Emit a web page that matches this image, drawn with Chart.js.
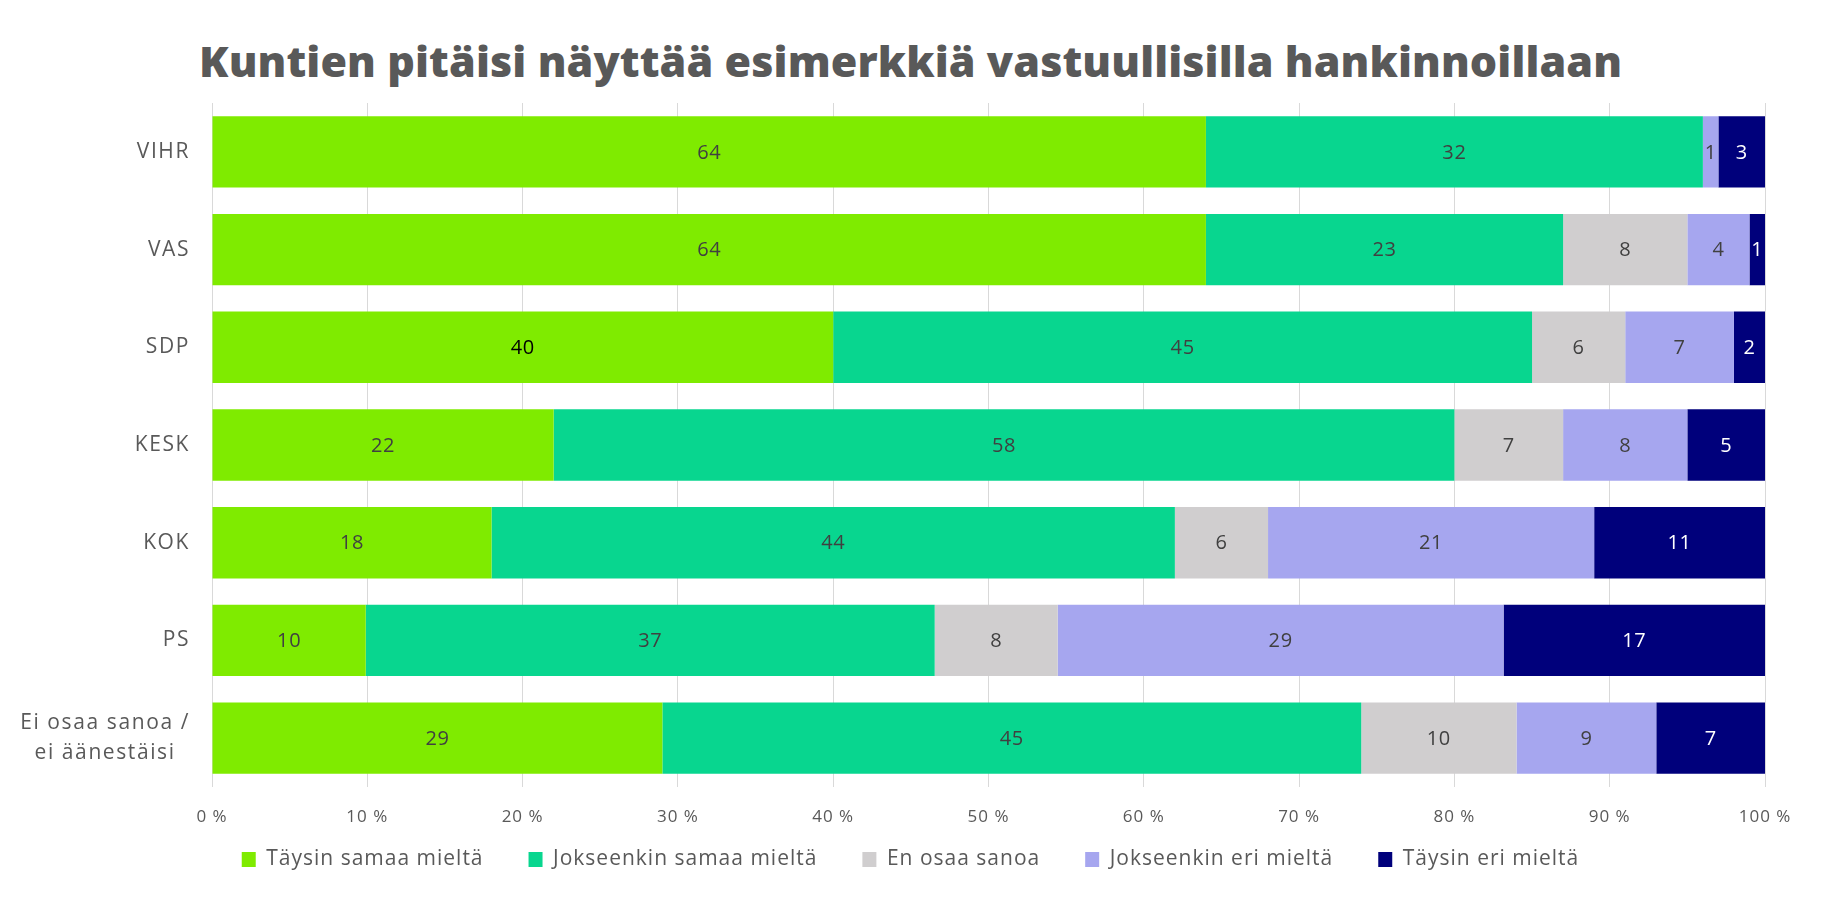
<!DOCTYPE html>
<html lang="fi">
<head>
<meta charset="UTF-8">
<title>Kuntien pitäisi näyttää esimerkkiä vastuullisilla hankinnoillaan</title>
<script src="https://cdn.jsdelivr.net/npm/chart.js"></script>
<style>
  body { margin: 0; background: #fff; }
  .wrap { position: relative; width: 1840px; height: 920px; }
  h1 {
    position: absolute; left: 199px; top: 39px; margin: 0;
    font: 800 43px/43px 'Open Sans', sans-serif; color: #595959;
    letter-spacing: 0.1px; white-space: nowrap;
  }
  canvas { position: absolute; left: 0; top: 0; }
</style>
</head>
<body>
<div class="wrap">
  <h1>Kuntien pitäisi näyttää esimerkkiä vastuullisilla hankinnoillaan</h1>
  <canvas id="kaavio" width="1840" height="920"></canvas>
</div>
<script>
// puolueet ja vastausvaihtoehdot
const puolueet = ['VIHR', 'VAS', 'SDP', 'KESK', 'KOK', 'PS', ['Ei osaa sanoa /', 'ei äänestäisi']];
const vaihtoehdot = ['Täysin samaa mieltä', 'Jokseenkin samaa mieltä', 'En osaa sanoa', 'Jokseenkin eri mieltä', 'Täysin eri mieltä'];
const taysinSamaa = [64, 64, 40, 22, 18, 10, 29];
const jokseenkinSamaa = [32, 23, 45, 58, 44, 37, 45];
const enOsaa = [0, 8, 6, 7, 6, 8, 10];
const jokseenkinEri = [1, 4, 7, 8, 21, 29, 9];
const taysinEri = [3, 1, 2, 5, 11, 17, 7];
const xTikit = [0, 10, 20, 30, 40, 50, 60, 70, 80, 90, 100];

const sarjat = [taysinSamaa, jokseenkinSamaa, enOsaa, jokseenkinEri, taysinEri];
const varit = ['#7FEB00', '#08D68F', '#D0CECF', '#A6A6EF', '#00007B'];
const tekstiVarit = ['#404040', '#404040', '#404040', '#404040', '#ffffff'];
const fontti = "'Open Sans', sans-serif";
const harvennus = '1px';

// rivisummat -> 100 % pinotut palkit
const summat = puolueet.map((p, i) => sarjat.reduce((s, a) => s + a[i], 0));

const datasets = sarjat.map((arvot, k) => ({
  label: vaihtoehdot[k],
  data: arvot.map((v, i) => v / summat[i] * 100),
  raw: arvot,
  backgroundColor: varit[k],
  borderWidth: 0,
  barPercentage: 0.73,
  categoryPercentage: 1
}));

// väljempi kirjainväli koko kaavioon, legenda ylemmäs ja keskelle
const asetteluPlugin = {
  id: 'asettelu',
  beforeLayout(chart) { chart.ctx.letterSpacing = harvennus; },
  beforeDraw(chart) { chart.ctx.letterSpacing = harvennus; },
  afterLayout(chart) {
    const L = chart.legend;
    const d = 804 - L.top;
    L.top += d;
    L.bottom += d;
    L.left += 28;
    L.right += 28;
  }
};

// arvot palkkien keskelle
const arvoPlugin = {
  id: 'arvot',
  afterDatasetsDraw(chart) {
    const ctx = chart.ctx;
    ctx.save();
    ctx.font = '20px ' + fontti;
    ctx.letterSpacing = '0.6px';
    ctx.textAlign = 'center';
    ctx.textBaseline = 'middle';
    chart.data.datasets.forEach((ds, k) => {
      chart.getDatasetMeta(k).data.forEach((bar, i) => {
        const v = ds.raw[i];
        if (!v) return;
        ctx.fillStyle = (k === 0 && puolueet[i] === 'SDP') ? '#000' : tekstiVarit[k];
        ctx.fillText(String(v), (bar.x + bar.base) / 2, bar.y + 1);
      });
    });
    ctx.restore();
  }
};

// y-akselin nimet: oikea reuna, monirivinen keskitetty
const nimiPlugin = {
  id: 'nimet',
  afterDraw(chart) {
    const ctx = chart.ctx;
    const y = chart.scales.y;
    ctx.save();
    ctx.font = '21px ' + fontti;
    ctx.letterSpacing = '1.6px';
    ctx.fillStyle = '#595959';
    ctx.textAlign = 'center';
    ctx.textBaseline = 'middle';
    puolueet.forEach((nimi, i) => {
      const rivit = Array.isArray(nimi) ? nimi : [nimi];
      const lev = Math.max(...rivit.map(r => ctx.measureText(r).width));
      const cx = 190 - lev / 2;
      const cy = y.getPixelForTick(i);
      rivit.forEach((r, j) => {
        ctx.fillText(r, cx, cy + (j - (rivit.length - 1) / 2) * 30);
      });
    });
    ctx.restore();
  }
};

new Chart(document.getElementById('kaavio'), {
  type: 'bar',
  data: { labels: puolueet, datasets: datasets },
  plugins: [asetteluPlugin, arvoPlugin, nimiPlugin],
  options: {
    indexAxis: 'y',
    responsive: false,
    animation: false,
    layout: { padding: { top: 103, left: 0, right: 75, bottom: 5 } },
    plugins: {
      tooltip: { enabled: false },
      legend: {
        position: 'bottom',
        labels: {
          font: { family: fontti, size: 21 },
          color: '#595959',
          boxWidth: 14,
          boxHeight: 15,
          padding: 45
        }
      }
    },
    scales: {
      x: {
        stacked: true,
        min: 0,
        max: 100,
        afterBuildTicks: s => { s.ticks = xTikit.map(v => ({ value: v })); },
        afterFit: s => { s.height = 52; },
        grid: { color: '#D9D9D9', drawTicks: false },
        border: { display: false },
        ticks: {
          padding: 20,
          color: '#595959',
          font: { family: fontti, size: 17 },
          callback: v => v + ' %'
        }
      },
      y: {
        stacked: true,
        afterFit: s => { s.width = 212; },
        grid: { display: false },
        border: { display: false },
        ticks: { display: false }
      }
    }
  }
});
</script>
</body>
</html>
